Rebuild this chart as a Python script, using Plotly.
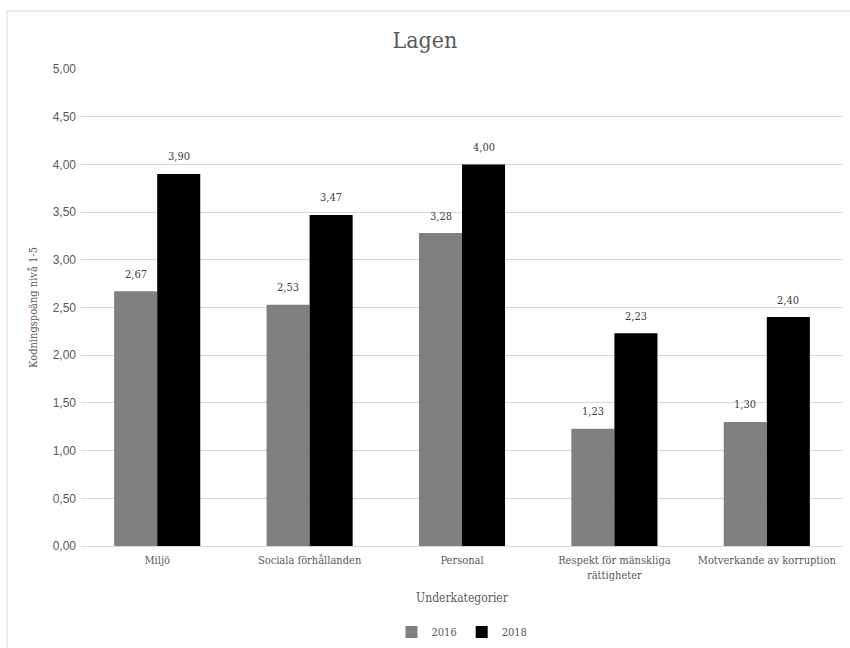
import plotly.graph_objects as go

categories = ["Miljö", "Sociala förhållanden", "Personal",
              "Respekt för mänskliga<br>rättigheter", "Motverkande av korruption"]
values_2016 = [2.67, 2.53, 3.28, 1.23, 1.30]
values_2018 = [3.90, 3.47, 4.00, 2.23, 2.40]
tick_vals = [0, 0.5, 1, 1.5, 2, 2.5, 3, 3.5, 4, 4.5, 5]
tick_text = ["0,00", "0,50", "1,00", "1,50", "2,00", "2,50",
             "3,00", "3,50", "4,00", "4,50", "5,00"]

SERIF = "DejaVu Serif Condensed, DejaVu Serif, serif"
SANS = "Liberation Sans"
TEXT_GRAY = "#595959"
BAR_PX = 43  # half-group offset for value labels, in pixels

# layout geometry (pixels)
W, H = 850, 648
TOP, PLOT_BOTTOM, LEFT, RIGHT = 69, 546, 81, 7
PAPER_H = H - TOP


def py(pixel_y):
    return (H - pixel_y) / PAPER_H


def px(pixel_x):
    return (pixel_x - LEFT) / (W - LEFT - RIGHT)


def fmt(v):
    return f"{v:.2f}".replace(".", ",")


fig = go.Figure()
fig.add_trace(go.Bar(
    name="2016", x=categories, y=values_2016,
    marker=dict(color="#808080", line=dict(width=0)),
))
fig.add_trace(go.Bar(
    name="2018", x=categories, y=values_2018,
    marker=dict(color="#000000", line=dict(width=0)),
))

annotations = []
for series, shift in ((values_2016, -BAR_PX / 2), (values_2018, BAR_PX / 2)):
    for cat, v in zip(categories, series):
        annotations.append(dict(
            x=cat, y=v, xref="x", yref="y", text=fmt(v), showarrow=False,
            xshift=shift, yshift=17, yanchor="middle",
            font=dict(family=SERIF, size=11, color="#404040"),
        ))

fig.update_layout(
    width=W, height=H,
    margin=dict(l=LEFT, r=RIGHT, t=TOP, b=0),
    paper_bgcolor="white", plot_bgcolor="white",
    font=dict(family=SERIF),
    barmode="group", bargap=0.435, bargroupgap=0,
    title=dict(text="Lagen", x=0.5, xanchor="center", y=0.938, yanchor="middle",
               font=dict(family=SERIF, size=23, color=TEXT_GRAY)),
    xaxis=dict(
        automargin=False,
        showgrid=False, showline=True, linecolor="#d9d9d9", linewidth=1,
        ticks="", ticklabelstandoff=4,
        tickfont=dict(family=SERIF, size=11, color=TEXT_GRAY),
        title=dict(text="Underkategorier", standoff=13,
                   font=dict(family=SERIF, size=12, color=TEXT_GRAY)),
    ),
    yaxis=dict(
        automargin=False, domain=[py(PLOT_BOTTOM), 1],
        range=[0, 5], tickvals=tick_vals, ticktext=tick_text,
        showgrid=True, gridcolor="#d9d9d9", gridwidth=1,
        zeroline=False, showline=False, ticks="",
        tickfont=dict(family=SANS, size=12, color=TEXT_GRAY),
        ticklabelstandoff=4,
        title=dict(text="Kodningspoäng nivå 1-5", standoff=12,
                   font=dict(family=SERIF, size=11, color=TEXT_GRAY)),
    ),
    legend=dict(orientation="h", x=0.5, xanchor="center", y=py(632), yanchor="middle",
                font=dict(family=SERIF, size=11, color=TEXT_GRAY),
                itemwidth=30, traceorder="normal"),
    annotations=annotations,
    shapes=[dict(type="rect", xref="paper", yref="paper",
                 x0=px(7), x1=1.2, y0=-0.5, y1=py(11),
                 line=dict(color="#d9d9d9", width=1), layer="below")],
)

fig.write_html("out.html")
